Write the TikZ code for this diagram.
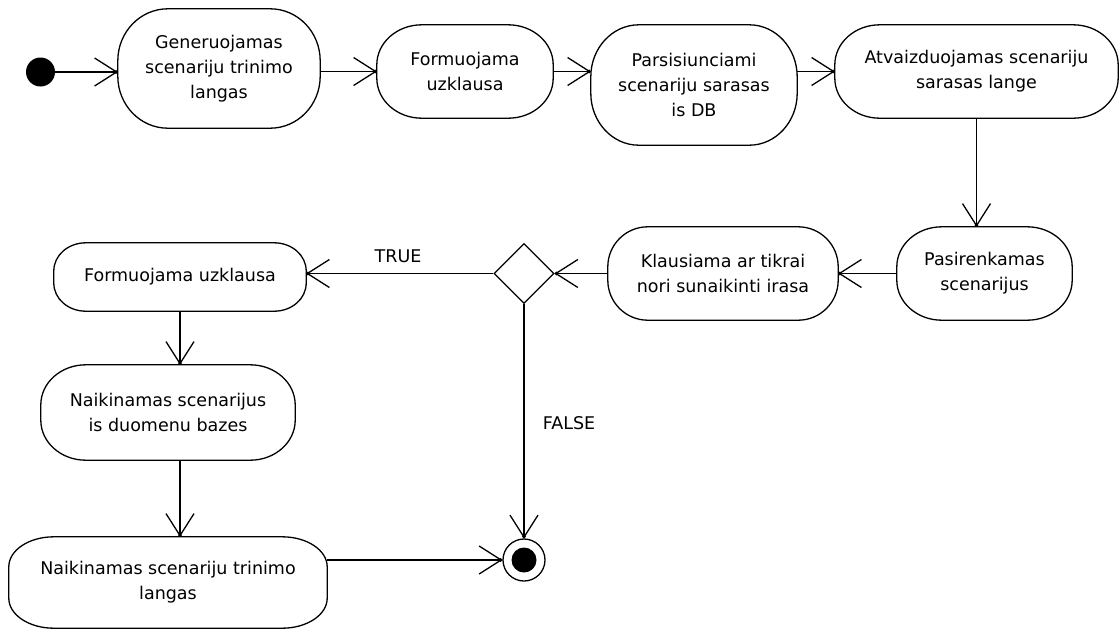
\documentclass[tikz,border=0pt]{standalone}
\usepackage{fontspec}
\setmainfont{DejaVu Sans}
\usetikzlibrary{arrows.meta,calc,shapes.geometric}

% Outline of an activity: flat top and bottom, elliptic corners
% #1 node name, #2 horizontal corner radius, #3 vertical corner radius
\newcommand\actoutline[3]{%
  \draw[actline] let \p1=(#1.north west), \p2=(#1.south east) in
    (\x1+#2,\y1) -- (\x2-#2,\y1)
    arc[start angle=90,end angle=0,x radius=#2,y radius=#3]
    -- (\x2,\y2+#3)
    arc[start angle=0,end angle=-90,x radius=#2,y radius=#3]
    -- (\x1+#2,\y2)
    arc[start angle=270,end angle=180,x radius=#2,y radius=#3]
    -- (\x1,\y1-#3)
    arc[start angle=180,end angle=90,x radius=#2,y radius=#3]
    -- cycle;}

\begin{document}
\begin{tikzpicture}[x=1pt,y=-1pt,
  actline/.style={line width=1.3pt},
  act/.style={inner sep=0pt,align=center,font=\fontsize{17.5}{25}\selectfont},
  flow/.style={line width=1.3pt,
    -{Straight Barb[length=22pt,width=28pt,sep=-3.5pt]Circle[length=3.5pt]}},
  lbl/.style={font=\fontsize{17.5}{25}\selectfont,inner sep=0pt}]
\useasboundingbox (0,0) rectangle (1120,630);

% initial and final states
\node[circle,fill,minimum size=29pt,inner sep=0pt] (start) at (40.5,72) {};
\node[circle,draw,line width=1.3pt,minimum size=42pt,inner sep=0pt] (final) at (524,560) {};
\node[circle,fill,minimum size=25pt,inner sep=0pt] (finalcore) at (final) {};

% activities
\node[act,minimum width=202pt,minimum height=119pt] (n1) at (219,68.5)
  {Generuojamas\\scenariju trinimo\\langas};
\node[act,minimum width=176pt,minimum height=93pt] (n2) at (465,71.5)
  {Formuojama\\uzklausa};
\node[act,minimum width=206pt,minimum height=120pt] (n3) at (694,85)
  {Parsisiunciami\\scenariju sarasas\\is DB};
\node[act,minimum width=283pt,minimum height=93pt] (n4) at (976.5,71.5)
  {Atvaizduojamas scenariju\\sarasas lange};
\node[act,minimum width=175pt,minimum height=93pt] (n5) at (984.5,273.5)
  {Pasirenkamas\\scenarijus};
\node[act,minimum width=230pt,minimum height=93pt] (n6) at (723,273.5)
  {Klausiama ar tikrai\\nori sunaikinti irasa};
\node[act,minimum width=252pt,minimum height=68pt] (n7) at (180,277)
  {Formuojama uzklausa};
\node[act,minimum width=254pt,minimum height=95pt] (n8) at (168,412.5)
  {Naikinamas scenarijus\\is duomenu bazes};
\node[act,minimum width=318pt,minimum height=91pt] (n9) at (168,582.5)
  {Naikinamas scenariju trinimo\\langas};

\actoutline{n1}{50pt}{52pt}
\actoutline{n2}{45pt}{40pt}
\actoutline{n3}{48pt}{52pt}
\actoutline{n4}{45pt}{40pt}
\actoutline{n5}{45pt}{40pt}
\actoutline{n6}{40pt}{40pt}
\actoutline{n7}{32pt}{28pt}
\actoutline{n8}{45pt}{40pt}
\actoutline{n9}{45pt}{30pt}

% decision
\node[diamond,draw,line width=1.3pt,aspect=1,minimum width=60pt,minimum height=60pt,
  inner sep=0pt] (d) at (524,273.5) {};

% flows
\draw[flow] (start) -- (start -| n1.west);
\draw[flow] (n1.east |- n2.west) -- (n2.west);
\draw[flow] (n2.east) -- (n2.east -| n3.west);
\draw[flow] (n3.east |- n4.west) -- (n4.west);
\draw[flow] (n4.south) -- (n4.south |- n5.north);
\draw[flow] (n5.west) -- (n6.east);
\draw[flow] (n6.west) -- (d.east);
\draw[flow] (d.west) -- (d.west -| n7.east);
\draw[flow] (d.south) -- (final.north);
\draw[flow] (n7.south) -- (n7.south |- n8.north);
\draw[flow] (n8.south -| n7.south) -- (n7.south |- n9.north);
\draw[flow] (n9.east |- final.west) -- (final.west);

% guards
\node[lbl] (gtrue) at (398,256) {TRUE};
\node[lbl] (gfalse) at (569,423) {FALSE};
\end{tikzpicture}
\end{document}
